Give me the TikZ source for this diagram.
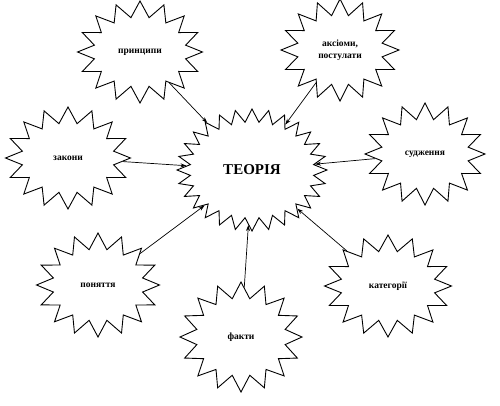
\documentclass[tikz,border=0pt]{standalone}
\usepackage{fontspec}
\setmainfont{Liberation Serif}
\usetikzlibrary{shapes.symbols,arrows.meta}
\begin{document}
\begin{tikzpicture}[x=1pt,y=-1pt,
  burst/.style={starburst, draw, line width=0.9pt, starburst points=16, random starburst=0,
    starburst point height=16pt, minimum width=125pt, minimum height=102pt,
    font=\bfseries\fontsize{9.5}{11.5}\selectfont, align=center, inner sep=1pt},
  bigburst/.style={starburst, draw, line width=0.9pt, starburst points=28, random starburst=0,
    starburst point height=13pt, minimum width=150pt, minimum height=122pt,
    font=\bfseries\fontsize{15}{17}\selectfont},
  link/.style={draw, line width=0.7pt, -{Stealth[length=6pt,width=4pt]}}]
\useasboundingbox (0,0) rectangle (500,405);
\node[bigburst] (t) at (252,170) {ТЕОРІЯ};
\node[burst] (p) at (140,52) {принципи};
\node[burst, minimum width=118pt] (a) at (340,50) {аксіоми,\\постулати};
\node[burst] (z) at (68,158) {закони};
\node[burst, minimum width=120pt] (s) at (425,154) {судження};
\node[burst, minimum width=123pt, minimum height=104pt] (n) at (98,285) {поняття};
\node[burst, minimum width=122pt, minimum height=110pt] (f) at (241,337) {факти};
\node[burst, minimum width=127pt, minimum height=102pt] (k) at (388,286) {категорії};
\draw[link] (p) -- (t);
\draw[link] (a) -- (t);
\draw[link] (z) -- (t);
\draw[link] (s) -- (t);
\draw[link] (n) -- (t);
\draw[link] (f) -- (t);
\draw[link] (k) -- (t);
\end{tikzpicture}
\end{document}
